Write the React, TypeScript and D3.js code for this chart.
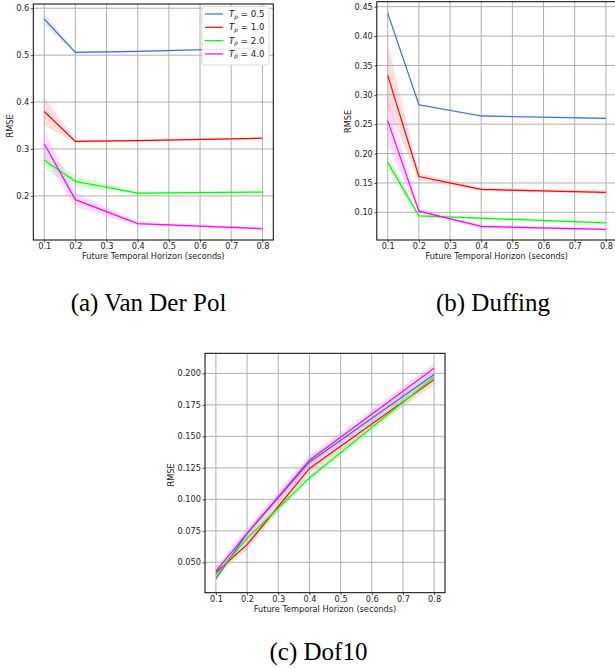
import React, { useEffect, useRef } from 'react';
import * as d3 from 'd3';

// future horizons where each run was evaluated (seconds)
const horizons = [0.1, 0.2, 0.4, 0.8];
const xTickValues = [0.1, 0.2, 0.3, 0.4, 0.5, 0.6, 0.7, 0.8];
const periodLabels = ['0.5', '1.0', '2.0', '4.0'];

// Van Der Pol: mean RMSE per T_p, and half width of shaded band
const vdpMean = [
  [0.577, 0.506, 0.508, 0.515],
  [0.380, 0.316, 0.318, 0.323],
  [0.276, 0.231, 0.206, 0.208],
  [0.311, 0.192, 0.141, 0.130],
];
const vdpSpread = [
  [0.012, 0.003, 0.002, 0.002],
  [0.030, 0.003, 0.002, 0.002],
  [0.020, 0.012, 0.004, 0.003],
  [0.030, 0.015, 0.004, 0.003],
];
const vdpTicks = [0.2, 0.3, 0.4, 0.5, 0.6];

// Duffing
const duffingMean = [
  [0.439, 0.283, 0.264, 0.260],
  [0.333, 0.161, 0.139, 0.134],
  [0.185, 0.094, 0.090, 0.082],
  [0.256, 0.102, 0.076, 0.071],
];
const duffingSpread = [
  [0.004, 0.002, 0.002, 0.002],
  [0.055, 0.006, 0.003, 0.003],
  [0.012, 0.003, 0.002, 0.002],
  [0.040, 0.004, 0.003, 0.002],
];
const duffingTicks = [0.1, 0.15, 0.2, 0.25, 0.3, 0.35, 0.4, 0.45];

// Dof10
const dofMean = [
  [0.037, 0.073, 0.1295, 0.199],
  [0.042, 0.064, 0.1245, 0.195],
  [0.040, 0.069, 0.117, 0.197],
  [0.043, 0.073, 0.131, 0.204],
];
const dofSpread = [
  [0.002, 0.003, 0.003, 0.003],
  [0.003, 0.004, 0.004, 0.004],
  [0.002, 0.003, 0.003, 0.003],
  [0.003, 0.004, 0.004, 0.004],
];
const dofTicks = [0.05, 0.075, 0.1, 0.125, 0.15, 0.175, 0.2];

const lineColors = ['#4169e1', '#ff0000', '#00ff00', '#ff00ff'];
const sans = 'DejaVu Sans, sans-serif';
const serif = 'Liberation Serif, Times New Roman, Times, serif';
const fs = 8.2;

interface PanelCfg {
  left: number; top: number; width: number; height: number;
  yDomain: [number, number];
  yTicks: number[];
  yFormat: string;
  mean: number[][];
  spread: number[][];
  ylabelX: number; ylabelY: number;
  caption: string; captionX: number; captionY: number;
  legend: boolean;
}

function drawPanel(svg: any, cfg: PanelCfg) {
  const { width, height } = cfg;
  const g = svg.append('g').attr('transform', `translate(${cfg.left},${cfg.top})`);

  const x = d3.scaleLinear().domain([0.065, 0.835]).range([0, width]);
  const y = d3.scaleLinear().domain(cfg.yDomain).range([height, 0]);

  // shaded bands first (under the grid like matplotlib)
  cfg.mean.forEach((m, i) => {
    const rows = horizons.map((h, j) => ({ h, lo: m[j] - cfg.spread[i][j], hi: m[j] + cfg.spread[i][j] }));
    const area = d3.area<any>().x(d => x(d.h)).y0(d => y(d.lo)).y1(d => y(d.hi));
    g.append('path').datum(rows)
      .attr('d', area)
      .attr('fill', lineColors[i])
      .attr('fill-opacity', 0.13);
  });

  // grid
  g.selectAll('.gx').data(xTickValues).join('line')
    .attr('class', 'gx')
    .attr('x1', d => x(d)).attr('x2', d => x(d))
    .attr('y1', 0).attr('y2', height)
    .attr('stroke', '#b0b0b0').attr('stroke-width', 1);
  g.selectAll('.gy').data(cfg.yTicks).join('line')
    .attr('class', 'gy')
    .attr('x1', 0).attr('x2', width)
    .attr('y1', d => y(d)).attr('y2', d => y(d))
    .attr('stroke', '#b0b0b0').attr('stroke-width', 1);

  // lines
  const line = d3.line<any>().x(d => x(d.h)).y(d => y(d.v));
  cfg.mean.forEach((m, i) => {
    g.append('path').datum(horizons.map((h, j) => ({ h, v: m[j] })))
      .attr('d', line)
      .attr('fill', 'none')
      .attr('stroke', lineColors[i])
      .attr('stroke-width', 1.2);
  });

  // frame
  g.append('rect')
    .attr('x', 0).attr('y', 0).attr('width', width).attr('height', height)
    .attr('fill', 'none').attr('stroke', '#000').attr('stroke-width', 1);

  // axes
  const xAxis = g.append('g')
    .attr('transform', `translate(0,${height})`)
    .call(d3.axisBottom(x).tickValues(xTickValues).tickSize(2.5).tickPadding(1).tickFormat(d3.format('.1f')));
  const yAxis = g.append('g')
    .call(d3.axisLeft(y).tickValues(cfg.yTicks).tickSize(2.5).tickPadding(1.5).tickFormat(d3.format(cfg.yFormat)));
  [xAxis, yAxis].forEach(a => {
    a.select('.domain').remove();
    a.selectAll('text').attr('font-family', sans).attr('font-size', fs).attr('fill', '#222');
    a.selectAll('line').attr('stroke', '#222').attr('stroke-width', 0.8);
  });

  g.append('text')
    .attr('x', width / 2).attr('y', height + 19)
    .attr('text-anchor', 'middle')
    .attr('font-family', sans).attr('font-size', fs).attr('fill', '#222')
    .text('Future Temporal Horizon (seconds)');

  svg.append('text')
    .attr('transform', `translate(${cfg.ylabelX},${cfg.ylabelY}) rotate(-90)`)
    .attr('text-anchor', 'middle')
    .attr('dy', '0.35em')
    .attr('font-family', sans).attr('font-size', fs).attr('fill', '#222')
    .text('RMSE');

  if (cfg.legend) {
    const lw = 67, lh = 58.5;
    const lg = g.append('g').attr('transform', `translate(${width - 4.3 - lw},2.5)`);
    lg.append('rect')
      .attr('width', lw).attr('height', lh).attr('rx', 2)
      .attr('fill', 'white').attr('fill-opacity', 0.85)
      .attr('stroke', '#d0d0d0').attr('stroke-width', 0.8);
    periodLabels.forEach((p, i) => {
      const ry = 7.5 + i * 13.3;
      lg.append('line')
        .attr('x1', 3).attr('x2', 21).attr('y1', ry).attr('y2', ry)
        .attr('stroke', lineColors[i]).attr('stroke-width', 1.2);
      const t = lg.append('text')
        .attr('x', 27).attr('y', ry).attr('dy', '0.35em')
        .attr('font-family', sans).attr('font-size', 8.6).attr('fill', '#222');
      t.append('tspan').attr('font-style', 'italic').text('T');
      t.append('tspan').attr('font-style', 'italic').attr('font-size', 6).attr('dy', '0.25em').text('p');
      t.append('tspan').attr('dy', '-0.18em').text(` = ${p}`);
    });
  }

  svg.append('text')
    .attr('x', cfg.captionX).attr('y', cfg.captionY)
    .attr('text-anchor', 'middle')
    .style('font-family', serif).style('font-size', '25px')
    .attr('fill', '#000')
    .text(cfg.caption);
}

export default function App() {
  const ref = useRef<SVGSVGElement>(null);

  useEffect(() => {
    const svg = d3.select(ref.current);
    svg.selectAll('*').remove();

    drawPanel(svg, {
      left: 33.3, top: 4, width: 240, height: 236,
      yDomain: [0.106, 0.609], yTicks: vdpTicks, yFormat: '.1f',
      mean: vdpMean, spread: vdpSpread,
      ylabelX: 10, ylabelY: 126,
      caption: '(a) Van Der Pol', captionX: 148.5, captionY: 311,
      legend: true,
    });
    drawPanel(svg, {
      left: 376.8, top: 1.7, width: 240, height: 238.3,
      yDomain: [0.0529, 0.4585], yTicks: duffingTicks, yFormat: '.2f',
      mean: duffingMean, spread: duffingSpread,
      ylabelX: 348.3, ylabelY: 121.5,
      caption: '(b) Duffing', captionX: 493, captionY: 311,
      legend: false,
    });
    drawPanel(svg, {
      left: 205, top: 353.3, width: 240, height: 239.4,
      yDomain: [0.0259, 0.2159], yTicks: dofTicks, yFormat: '.3f',
      mean: dofMean, spread: dofSpread,
      ylabelX: 171, ylabelY: 475,
      caption: '(c) Dof10', captionX: 318.5, captionY: 660,
      legend: false,
    });
  }, []);

  return (
    <svg
      ref={ref}
      width={615}
      height={668}
      style={{ position: 'absolute', left: 0, top: 0, background: 'white' }}
    />
  );
}
